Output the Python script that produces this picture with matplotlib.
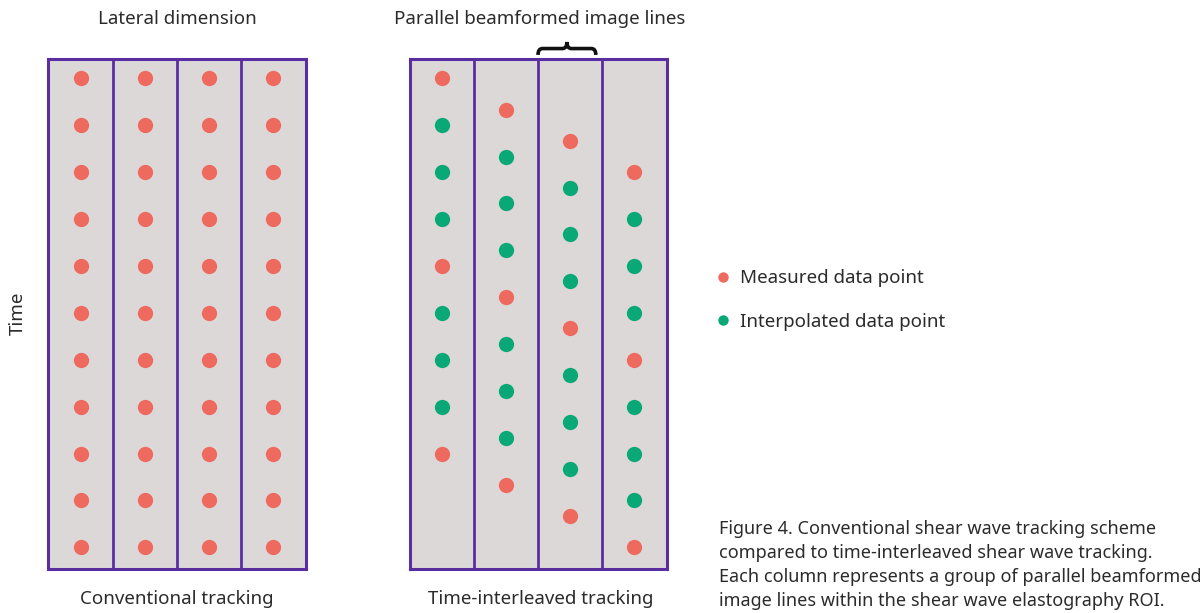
import matplotlib
matplotlib.use("Agg")
import matplotlib.pyplot as plt
from matplotlib.path import Path
from matplotlib.patches import PathPatch
from matplotlib.lines import Line2D
import matplotlib.transforms as mtransforms

plt.rcParams['font.family'] = ['Noto Sans', 'DejaVu Sans']

# ---- data ----
columns = [0, 1, 2, 3]
# conventional tracking: every column measured at every time step
conv_times = [0, 1, 2, 3, 4, 5, 6, 7, 8, 9, 10]
# time-interleaved tracking (time in units of the conventional step)
ti_measured = [
    [0, 4, 8],
    [0.67, 4.67, 8.67],
    [1.33, 5.33, 9.33],
    [2, 6, 10],
]
ti_interpolated = [
    [1, 2, 3, 5, 6, 7],
    [1.67, 2.67, 3.67, 5.67, 6.67, 7.67],
    [2.33, 3.33, 4.33, 6.33, 7.33, 8.33],
    [3, 4, 5, 7, 8, 9],
]
panel_titles_top = ["Lateral dimension", "Parallel beamformed image lines"]
panel_titles_bottom = ["Conventional tracking", "Time-interleaved tracking"]
legend_labels = ["Measured data point", "Interpolated data point"]
caption = ("Figure 4. Conventional shear wave tracking scheme\n"
           "compared to time-interleaved shear wave tracking.\n"
           "Each column represents a group of parallel beamformed\n"
           "image lines within the shear wave elastography ROI.")

RED = "#ef6a5e"
GREEN = "#0aa877"
PURPLE = "#5a2ea0"
FILL = "#dcd8d8"
TXT = "#2b2b2b"

W, H = 1200, 613
fig = plt.figure(figsize=(12, 6.13), dpi=100)

def px(x, y):
    return x / W, 1 - y / H

ylim = (10.45, -0.41)
xlim = (-0.5, 3.5)

def make_ax(left_px):
    ax = fig.add_axes([left_px / W, (H - 568.5) / H, 257 / W, 509.5 / H])
    ax.set_facecolor(FILL)
    ax.set_xlim(*xlim)
    ax.set_ylim(*ylim)
    ax.set_xticks([])
    ax.set_yticks([])
    for s in ax.spines.values():
        s.set_color(PURPLE)
        s.set_linewidth(2.2)
    for xv in [0.5, 1.5, 2.5]:
        ax.axvline(xv, color=PURPLE, lw=2.0)
    return ax

ms = 11
ax1 = make_ax(48.5)
for c in columns:
    ax1.plot([c] * len(conv_times), conv_times, 'o', color=RED, ms=ms, mew=0)

ax2 = make_ax(409.5)
for c in columns:
    ax2.plot([c] * len(ti_measured[c]), ti_measured[c], 'o', color=RED, ms=ms, mew=0)
    ax2.plot([c] * len(ti_interpolated[c]), ti_interpolated[c], 'o', color=GREEN, ms=ms, mew=0)

# brace above third column
trans = mtransforms.blended_transform_factory(ax2.transData, ax2.transAxes)
x0, x1 = 1.5, 2.4
xm = (x0 + x1) / 2
yb, ybar, yt = 1.008, 1.0205, 1.0335
r = 0.07
verts = [
    (x0, yb), (x0, ybar), (x0 + r, ybar),
    (xm - r, ybar), (xm, ybar), (xm, yt),
    (xm, ybar), (xm + r, ybar),
    (x1 - r, ybar), (x1, ybar), (x1, yb),
]
codes = [Path.MOVETO, Path.CURVE3, Path.CURVE3,
         Path.LINETO, Path.CURVE3, Path.CURVE3,
         Path.CURVE3, Path.CURVE3,
         Path.LINETO, Path.CURVE3, Path.CURVE3]
brace = PathPatch(Path(verts, codes), transform=trans, fill=False,
                  lw=2.6, ec="#111111", clip_on=False, capstyle='butt')
ax2.add_patch(brace)

fs = 13.5
fig.text(*px(177, 19), panel_titles_top[0], ha='center', va='center', fontsize=fs, color=TXT)
fig.text(*px(540, 19), panel_titles_top[1], ha='center', va='center', fontsize=fs, color=TXT)
fig.text(*px(177, 599), panel_titles_bottom[0], ha='center', va='center', fontsize=fs, color=TXT)
fig.text(*px(541, 599), panel_titles_bottom[1], ha='center', va='center', fontsize=fs, color=TXT)
fig.text(*px(18, 313), "Time", ha='center', va='center', rotation=90, fontsize=fs, color=TXT)

# legend
handles = [Line2D([], [], marker='o', ls='', color=RED, ms=7.5, mew=0),
           Line2D([], [], marker='o', ls='', color=GREEN, ms=7.5, mew=0)]
fig.legend(handles, legend_labels, loc='center left', bbox_to_anchor=px(702, 300),
           frameon=False, fontsize=fs, handletextpad=0.35, labelspacing=1.35,
           labelcolor=TXT, handlelength=1.2, borderpad=0)

fig.text(*px(719, 565), caption, ha='left', va='center', fontsize=13, color=TXT,
         linespacing=1.42)

fig.savefig("out.png", dpi=100, facecolor='white')
